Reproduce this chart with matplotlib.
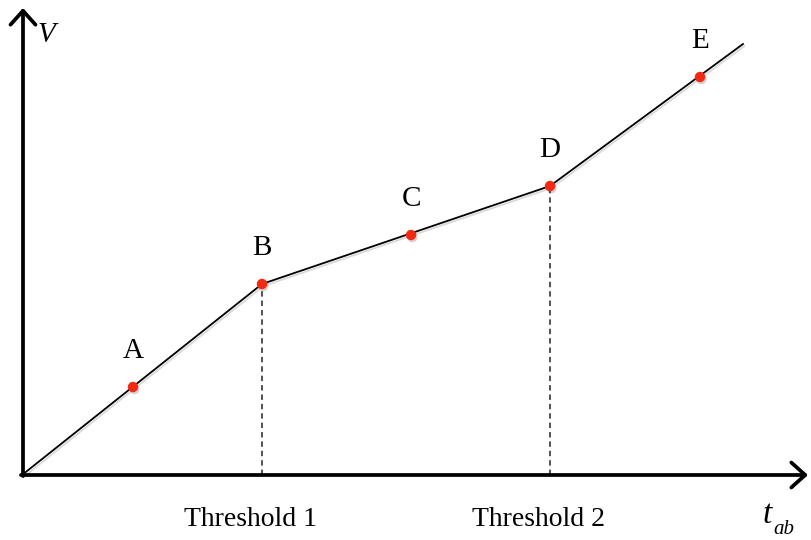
import matplotlib.pyplot as plt
import matplotlib.patheffects as pe

plt.rcParams['font.family'] = 'Liberation Serif'

# piecewise line t_ab -> V
line_t = [0.0, 2.40, 5.28, 7.21]
line_v = [0.0, 1.91, 2.89, 4.31]

labels = ['A', 'B', 'C', 'D', 'E']
point_t = [1.11, 2.40, 3.89, 5.28, 6.78]
point_v = [0.88, 1.91, 2.40, 2.89, 3.98]

thresholds = [2.40, 5.28]
threshold_v = [1.91, 2.89]
threshold_labels = ['Threshold 1', 'Threshold 2']

fig = plt.figure(figsize=(8.11, 5.40), dpi=100)
ax = fig.add_axes([0, 0, 1, 1])
ax.set_xlim(-0.22, 7.89)
ax.set_ylim(-0.65, 4.75)
ax.axis('off')

shadow = [pe.SimpleLineShadow(offset=(1, -1.5), alpha=0.15, shadow_color='k'), pe.Normal()]

# axes with arrows
arrow = dict(arrowstyle='->,head_length=0.5,head_width=0.45', lw=2.7, color='black',
             shrinkA=0, shrinkB=0, mutation_scale=20)
ax.annotate('', xy=(7.86, 0), xytext=(-0.01, 0), arrowprops=arrow)
ax.annotate('', xy=(0.01, 4.67), xytext=(0.01, -0.01), arrowprops=arrow)

# dashed threshold lines
for t, v in zip(thresholds, threshold_v):
    ax.plot([t, t], [0, v], color='#444444', lw=1.3, ls=(0, (3, 2.2)))

ax.plot(line_t, line_v, color='black', lw=1.3, path_effects=shadow, zorder=3)
ax.plot(point_t, point_v, 'o', color='#f22a14', ms=7.5, mec='none', zorder=4,
        path_effects=[pe.SimplePatchShadow(offset=(1, -1.5), alpha=0.2), pe.Normal()])

for lab, t, v in zip(labels, point_t, point_v):
    ax.annotate(lab, (t, v), xytext=(0, 26), textcoords='offset points',
                ha='center', va='center', fontsize=21)

for t, lab in zip(thresholds, threshold_labels):
    ax.text(t - 0.12, -0.44, lab, ha='center', va='center', fontsize=20)

ax.text(0.24, 4.40, 'V', style='italic', ha='center', va='center', fontsize=21)
ax.text(7.45, -0.40, 't', style='italic', ha='center', va='center', fontsize=24)
ax.text(7.62, -0.55, 'ab', style='italic', ha='center', va='center', fontsize=15)

fig.savefig('out.png', dpi=100)
